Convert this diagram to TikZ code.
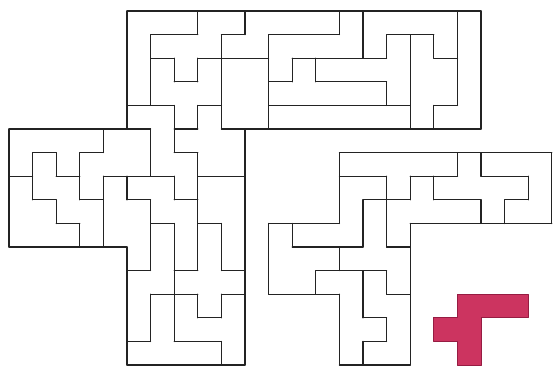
\documentclass[tikz,border=0pt]{standalone}
\definecolor{piecefill}{RGB}{204,52,96}
\definecolor{pieceedge}{RGB}{150,28,66}
\definecolor{wallcol}{RGB}{35,35,35}
\begin{document}
\begin{tikzpicture}[x=23.6pt,y=-23.6pt,
  wall/.style={line width=1.2pt,draw=wallcol,line cap=round},
  redpiece/.style={fill=piecefill,draw=pieceedge,line width=0.9pt,line join=round}]
\fill[white] (-5.3814,-0.4661) rectangle (18.0508,15.0847);
\useasboundingbox (-5.3814,-0.4661) rectangle (18.0508,15.0847);
% horizontal walls: row / from / to
\foreach \j/\a/\b in {
  0/0/15,
  1/1/3, 1/4/5, 1/6/9, 1/11/13,
  2/1/2, 2/3/6, 2/7/11, 2/13/14,
  3/2/3, 3/6/7, 3/8/11,
  4/0/2, 4/3/4, 4/6/12, 4/13/14,
  5/-5/1, 5/2/3, 5/4/15,
  6/-4/-3, 6/-2/-1, 6/2/3, 6/9/18,
  7/-5/-4, 7/-3/-2, 7/-1/2, 7/3/5, 7/9/11, 7/12/14, 7/15/17,
  8/-4/-3, 8/-2/-1, 8/0/1, 8/2/3, 8/10/12, 8/13/15, 8/16/17,
  9/-3/-2, 9/1/2, 9/3/4, 9/6/9, 9/12/18,
  10/-5/0, 10/7/10, 10/11/12,
  11/0/1, 11/2/3, 11/4/5, 11/8/11,
  12/1/3, 12/4/5, 12/6/9, 12/11/12,
  13/3/4, 13/10/11,
  14/0/1, 14/2/4, 14/10/11,
  15/0/5, 15/9/12}
  \draw[wall] (\a,\j) -- (\b,\j);
% vertical walls: column / from / to
\foreach \i/\a/\b in {
  -5/5/10,
  -4/6/8,
  -3/6/7, -3/8/9,
  -2/6/8, -2/9/10,
  -1/5/6, -1/7/10,
  0/0/5, 0/7/8, 0/10/15,
  1/1/4, 1/5/7, 1/8/11, 1/12/14,
  2/2/3, 2/4/6, 2/7/8, 2/9/14,
  3/0/1, 3/2/3, 3/4/5, 3/6/11, 3/12/13,
  4/1/5, 4/9/11, 4/12/13, 4/14/15,
  5/0/1, 5/5/15,
  6/1/5, 6/9/12,
  7/2/3, 7/9/10,
  8/2/3, 8/11/12,
  9/0/1, 9/6/9, 9/10/11, 9/12/15,
  10/0/2, 10/8/10, 10/11/13, 10/14/15,
  11/1/2, 11/3/4, 11/7/10, 11/11/12, 11/13/14,
  12/1/5, 12/7/8, 12/9/15,
  13/1/2, 13/4/5, 13/7/8,
  14/0/4, 14/6/7,
  15/0/5, 15/6/7, 15/8/9,
  16/8/9,
  17/7/8,
  18/6/9}
  \draw[wall] (\i,\a) -- (\i,\b);
% the red piece
\draw[redpiece] (14,12) -- (17,12) -- (17,13) -- (15,13) -- (15,15) -- (14,15)
  -- (14,14) -- (13,14) -- (13,13) -- (14,13) -- cycle;
\end{tikzpicture}
\end{document}
